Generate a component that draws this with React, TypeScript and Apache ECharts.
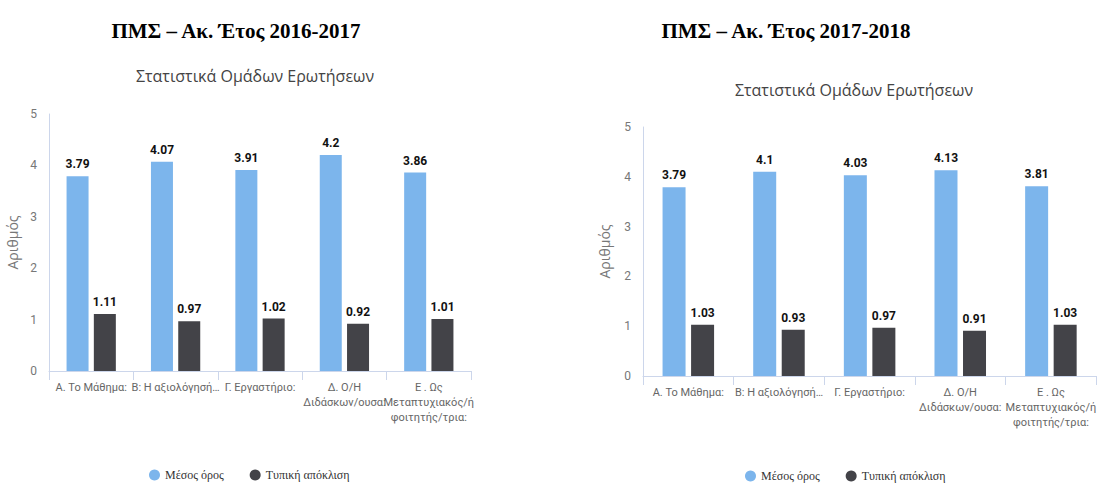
import React, { useEffect, useRef } from "react";
import * as echarts from "echarts";

const categories = [
  "Α. Το Μάθημα:",
  "Β: Η αξιολόγησή…",
  "Γ. Εργαστήριο:",
  "Δ. Ο/Η\nΔιδάσκων/ουσα:",
  "Ε . Ως\nΜεταπτυχιακός/ή\nφοιτητής/τρια:",
];
const seriesNames = ["Μέσος όρος", "Τυπική απόκλιση"];
const mean2016 = [3.79, 4.07, 3.91, 4.2, 3.86];
const std2016 = [1.11, 0.97, 1.02, 0.92, 1.01];
const mean2017 = [3.79, 4.1, 4.03, 4.13, 3.81];
const std2017 = [1.03, 0.93, 0.97, 0.91, 1.03];
const yTicks = { min: 0, max: 5, interval: 1 };

const BLUE = "#7cb5ec";
const DARK = "#434348";
const NARROW = "Roboto, sans-serif";

export default function App() {
  const ref = useRef<HTMLDivElement>(null);
  useEffect(() => {
    if (!ref.current) return;
    const chart = echarts.init(ref.current, null, { renderer: "svg" });
    const xAxisBase = (gridIndex: number) => ({
      type: "category" as const,
      gridIndex,
      data: categories,
      boundaryGap: true,
      axisLine: { lineStyle: { color: "#ccd6eb" } },
      axisTick: { show: true, interval: 0, length: 9, lineStyle: { color: "#ccd6eb" } },
      axisLabel: {
        interval: 0,
        color: "#666",
        fontSize: 11,
        fontFamily: NARROW,
        lineHeight: 15,
        margin: 9,
      },
    });
    const yAxisBase = (gridIndex: number, nameGap: number) => ({
      type: "value" as const,
      gridIndex,
      ...yTicks,
      name: "Αριθμός",
      nameLocation: "middle" as const,
      nameGap,
      nameRotate: 90,
      nameTextStyle: { color: "#777", fontSize: 14, fontFamily: "'Open Sans', sans-serif" },
      axisLine: { show: true, lineStyle: { color: "#ccd6eb" } },
      axisTick: { show: false },
      splitLine: { show: false },
      axisLabel: { color: "#777", fontSize: 12, fontFamily: NARROW, margin: 12 },
    });
    const label = {
      show: true,
      position: "top" as const,
      distance: 6,
      color: "#111",
      fontWeight: "bold" as const,
      fontSize: 12,
      fontFamily: NARROW,
    };
    const bar = (name: string, data: number[], idx: number, color: string, width: number) => ({
      type: "bar" as const,
      name,
      data,
      xAxisIndex: idx,
      yAxisIndex: idx,
      barWidth: width,
      barGap: "24%",
      itemStyle: { color },
      label,
    });
    const legendBase = {
      data: seriesNames,
      icon: "circle",
      itemWidth: 11,
      itemHeight: 11,
      itemGap: 26,
      padding: 0,
      textStyle: { color: "#333", fontSize: 12, fontFamily: "'Liberation Serif', serif" },
    };
    const titleStyle = {
      fontFamily: "'Liberation Serif', serif",
      fontWeight: "bold",
      fontSize: 21,
      color: "#000",
    };
    const subStyle = {
      fontFamily: "'Open Sans', sans-serif",
      fontWeight: "normal",
      fontSize: 16,
      color: "#444",
    };
    chart.setOption({
      animation: false,
      title: [
        { text: "ΠΜΣ – Ακ. Έτος 2016-2017", left: 231, top: 15, textAlign: "center", textStyle: titleStyle },
        { text: "ΠΜΣ – Ακ. Έτος 2017-2018", left: 781, top: 15, textAlign: "center", textStyle: titleStyle },
        { text: "Στατιστικά Ομάδων Ερωτήσεων", left: 250, top: 63, textAlign: "center", textStyle: subStyle },
        { text: "Στατιστικά Ομάδων Ερωτήσεων", left: 849, top: 77, textAlign: "center", textStyle: subStyle },
      ],
      legend: [
        { ...legendBase, left: 149, top: 469 },
        { ...legendBase, left: 745, top: 470 },
      ],
      grid: [
        { left: 49, top: 114, width: 422, height: 257 },
        { left: 643, top: 127, width: 455, height: 249 },
      ],
      xAxis: [xAxisBase(0), xAxisBase(1)],
      yAxis: [yAxisBase(0, 30), yAxisBase(1, 32)],
      series: [
        bar(seriesNames[0], mean2016, 0, BLUE, 22),
        bar(seriesNames[1], std2016, 0, DARK, 22),
        bar(seriesNames[0], mean2017, 1, BLUE, 23),
        bar(seriesNames[1], std2017, 1, DARK, 23),
      ],
    });
    return () => chart.dispose();
  }, []);
  return (
    <div
      ref={ref}
      style={{ position: "absolute", left: 0, top: 0, width: 1099, height: 484, background: "#fff" }}
    />
  );
}
